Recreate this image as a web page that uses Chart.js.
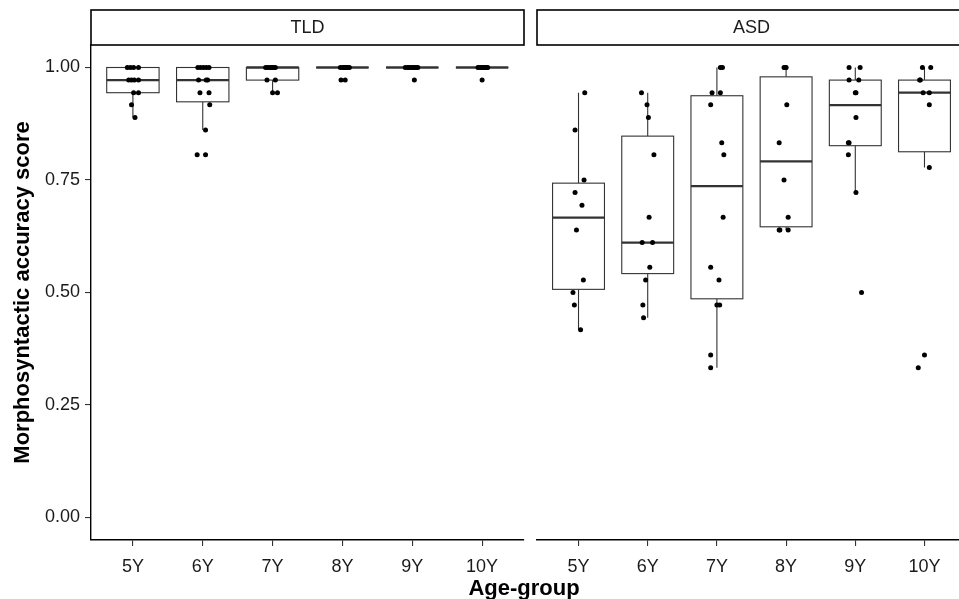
<!DOCTYPE html>
<html>
<head>
<meta charset="utf-8">
<script src="https://cdn.jsdelivr.net/npm/chart.js@4.4.1/dist/chart.umd.min.js"></script>
<style>
  html, body { margin: 0; padding: 0; background: #fff; }
  #wrap { position: relative; width: 959px; height: 599px; overflow: hidden; }
  canvas { position: absolute; top: 0; }
  #xtitle {
    position: absolute; left: 0; width: 1048px; top: 577px;
    text-align: center; font: bold 22px/22px "Liberation Sans", Arial, sans-serif; color: #000;
  }
</style>
</head>
<body>
<div id="wrap">
  <canvas id="tld" width="530" height="599" style="left:0"></canvas>
  <canvas id="asd" width="440" height="599" style="left:530px"></canvas>
  <div id="xtitle">Age-group</div>
</div>
<script>
const ageGroups = ['5Y', '6Y', '7Y', '8Y', '9Y', '10Y'];
const yTicks = [0, 0.25, 0.5, 0.75, 1];

// scores per age group
const tldScores = [
  [1, 1, 1, 1, 0.972, 0.972, 0.972, 0.972, 0.944, 0.944, 0.917, 0.889],
  [1, 1, 1, 1, 1, 0.972, 0.972, 0.972, 0.944, 0.944, 0.917, 0.861, 0.806, 0.806],
  [1, 1, 1, 1, 1, 1, 1, 0.972, 0.972, 0.944, 0.944],
  [1, 1, 1, 1, 1, 1, 1, 1, 0.972, 0.972],
  [1, 1, 1, 1, 1, 1, 1, 1, 1, 0.972],
  [1, 1, 1, 1, 1, 1, 1, 1, 1, 0.972]
];
const tldJitter = [
  [-0.08, -0.035, 0.01, 0.08, -0.06, -0.02, 0.02, 0.08, 0.01, 0.08, -0.02, 0.03],
  [-0.07, -0.03, 0.01, 0.05, 0.09, -0.06, 0.07, 0.05, -0.04, 0.09, 0.1, 0.04, -0.08, 0.04],
  [-0.1, -0.07, -0.04, -0.02, 0, 0.02, 0.04, -0.08, 0.04, 0, 0.07],
  [-0.03, 0, 0.02, 0.04, 0.06, 0.08, 0.1, 0.03, -0.02, 0.04],
  [-0.1, -0.07, -0.05, -0.03, 0, 0.02, 0.04, 0.06, 0.08, 0.03],
  [-0.06, -0.04, -0.02, 0, 0.02, 0.03, 0.05, 0.07, 0.08, 0]
];
const asdScores = [
  [0.944, 0.861, 0.75, 0.722, 0.694, 0.639, 0.528, 0.5, 0.472, 0.417],
  [0.944, 0.917, 0.889, 0.806, 0.667, 0.611, 0.611, 0.556, 0.528, 0.472, 0.444],
  [1, 1, 0.944, 0.944, 0.917, 0.833, 0.806, 0.667, 0.556, 0.528, 0.472, 0.472, 0.361, 0.333],
  [1, 1, 1, 0.917, 0.833, 0.75, 0.667, 0.639, 0.639, 0.639],
  [1, 1, 0.972, 0.972, 0.944, 0.944, 0.889, 0.833, 0.833, 0.806, 0.722, 0.5],
  [1, 1, 0.972, 0.972, 0.944, 0.944, 0.917, 0.778, 0.361, 0.333]
];
const asdJitter = [
  [0.09, -0.05, 0.08, -0.05, 0.05, -0.03, 0.07, -0.08, -0.06, 0.03],
  [-0.09, -0.01, 0.01, 0.09, 0.02, -0.08, 0.07, 0.03, -0.03, -0.07, -0.06],
  [0.05, 0.08, -0.07, 0.05, -0.09, 0.07, 0.1, 0.09, -0.09, 0.03, 0, 0.04, -0.09, -0.09],
  [-0.03, -0.01, 0, 0.01, -0.1, -0.03, 0.03, -0.1, 0.03, -0.09],
  [-0.09, 0.07, -0.09, 0.05, 0, 0.01, 0.01, -0.1, -0.09, -0.1, 0.01, 0.09],
  [-0.03, 0.09, -0.07, -0.06, -0.02, 0.07, 0.07, 0.07, 0, -0.09]
];

const FONT = '"Liberation Sans", Arial, sans-serif';
const BOX_W = 0.75;

function quantile(sorted, p) {
  const pos = (sorted.length - 1) * p;
  const lo = Math.floor(pos), hi = Math.ceil(pos);
  return sorted[lo] + (sorted[hi] - sorted[lo]) * (pos - lo);
}

function boxStats(vals) {
  const s = vals.slice().sort((a, b) => a - b);
  const q1 = quantile(s, 0.25), med = quantile(s, 0.5), q3 = quantile(s, 0.75);
  const iqr = q3 - q1;
  const lo = Math.min(...s.filter(v => v >= q1 - 1.5 * iqr - 1e-9));
  const hi = Math.max(...s.filter(v => v <= q3 + 1.5 * iqr + 1e-9));
  return { q1, med, q3, lo, hi };
}

function boxPlugin(groups) {
  return {
    id: 'boxes',
    beforeDatasetsDraw(chart) {
      const ctx = chart.ctx, xs = chart.scales.x, ys = chart.scales.y;
      ctx.save();
      ctx.strokeStyle = '#333333';
      groups.forEach((vals, i) => {
        const st = boxStats(vals);
        const xc = xs.getPixelForValue(i + 1);
        const x0 = xs.getPixelForValue(i + 1 - BOX_W / 2);
        const x1 = xs.getPixelForValue(i + 1 + BOX_W / 2);
        ctx.lineWidth = 1.1;
        ctx.beginPath();
        ctx.moveTo(xc, ys.getPixelForValue(st.q3));
        ctx.lineTo(xc, ys.getPixelForValue(st.hi));
        ctx.moveTo(xc, ys.getPixelForValue(st.q1));
        ctx.lineTo(xc, ys.getPixelForValue(st.lo));
        ctx.stroke();
        const yq3 = ys.getPixelForValue(st.q3), yq1 = ys.getPixelForValue(st.q1);
        ctx.fillStyle = '#fff';
        ctx.fillRect(x0, yq3, x1 - x0, yq1 - yq3);
        ctx.strokeRect(x0, yq3, x1 - x0, yq1 - yq3);
        ctx.lineWidth = 2.3;
        ctx.beginPath();
        const ym = ys.getPixelForValue(st.med);
        ctx.moveTo(x0, ym);
        ctx.lineTo(x1, ym);
        ctx.stroke();
      });
      ctx.restore();
    }
  };
}

function stripPlugin(label) {
  return {
    id: 'strip',
    afterDraw(chart) {
      const ctx = chart.ctx, a = chart.chartArea;
      ctx.save();
      ctx.fillStyle = '#fff';
      ctx.fillRect(a.left, 10, a.right - a.left, 35);
      ctx.strokeStyle = '#000';
      ctx.lineWidth = 1.6;
      ctx.strokeRect(a.left, 10, a.right - a.left, 35);
      ctx.fillStyle = '#1a1a1a';
      ctx.font = '18px ' + FONT;
      ctx.textAlign = 'center';
      ctx.textBaseline = 'middle';
      ctx.fillText(label, (a.left + a.right) / 2, 28);
      ctx.restore();
    }
  };
}

function makePanel(id, label, scores, jitter, showY, padLeft, padRight) {
  const points = [];
  scores.forEach((vals, i) => {
    vals.forEach((v, j) => points.push({ x: i + 1 + jitter[i][j], y: v }));
  });
  return new Chart(document.getElementById(id), {
    type: 'scatter',
    data: {
      datasets: [{
        data: points,
        backgroundColor: '#000',
        borderColor: '#000',
        pointRadius: 2.5,
        borderWidth: 0
      }]
    },
    options: {
      responsive: false,
      animation: false,
      devicePixelRatio: 1,
      layout: { padding: { top: 45, left: padLeft, right: padRight, bottom: 0 } },
      plugins: { legend: { display: false }, tooltip: { enabled: false } },
      scales: {
        x: {
          type: 'linear',
          min: 0.4,
          max: 6.6,
          afterBuildTicks: s => { s.ticks = ageGroups.map((g, i) => ({ value: i + 1 })); },
          afterFit: s => { s.height = 59; },
          ticks: {
            callback: v => ageGroups[v - 1],
            color: '#1a1a1a',
            font: { family: FONT, size: 18 },
            padding: 10,
            maxRotation: 0,
            autoSkip: false
          },
          grid: { display: true, drawOnChartArea: false, drawTicks: true, tickLength: 6, color: '#333', lineWidth: 1.1 },
          border: { display: true, color: '#000', width: 1.4 }
        },
        y: {
          display: showY,
          min: -0.05,
          max: 1.05,
          afterBuildTicks: s => { s.ticks = yTicks.map(v => ({ value: v })); },
          afterFit: s => { s.width = showY ? 91 : 0; },
          ticks: {
            callback: v => v.toFixed(2),
            color: '#1a1a1a',
            font: { family: FONT, size: 18 },
            padding: 5
          },
          grid: { display: true, drawOnChartArea: false, drawTicks: true, tickLength: 6, color: '#333', lineWidth: 1.1 },
          border: { display: true, color: '#000', width: 1.4 },
          title: {
            display: true,
            text: 'Morphosyntactic accuracy score',
            color: '#000',
            font: { family: FONT, size: 22, weight: 'bold' },
            padding: { top: 10, bottom: 0 }
          }
        }
      }
    },
    plugins: [boxPlugin(scores), stripPlugin(label)]
  });
}

makePanel('tld', 'TLD', tldScores, tldJitter, true, 0, 6);
makePanel('asd', 'ASD', asdScores, asdJitter, false, 7, 0);
</script>
</body>
</html>
